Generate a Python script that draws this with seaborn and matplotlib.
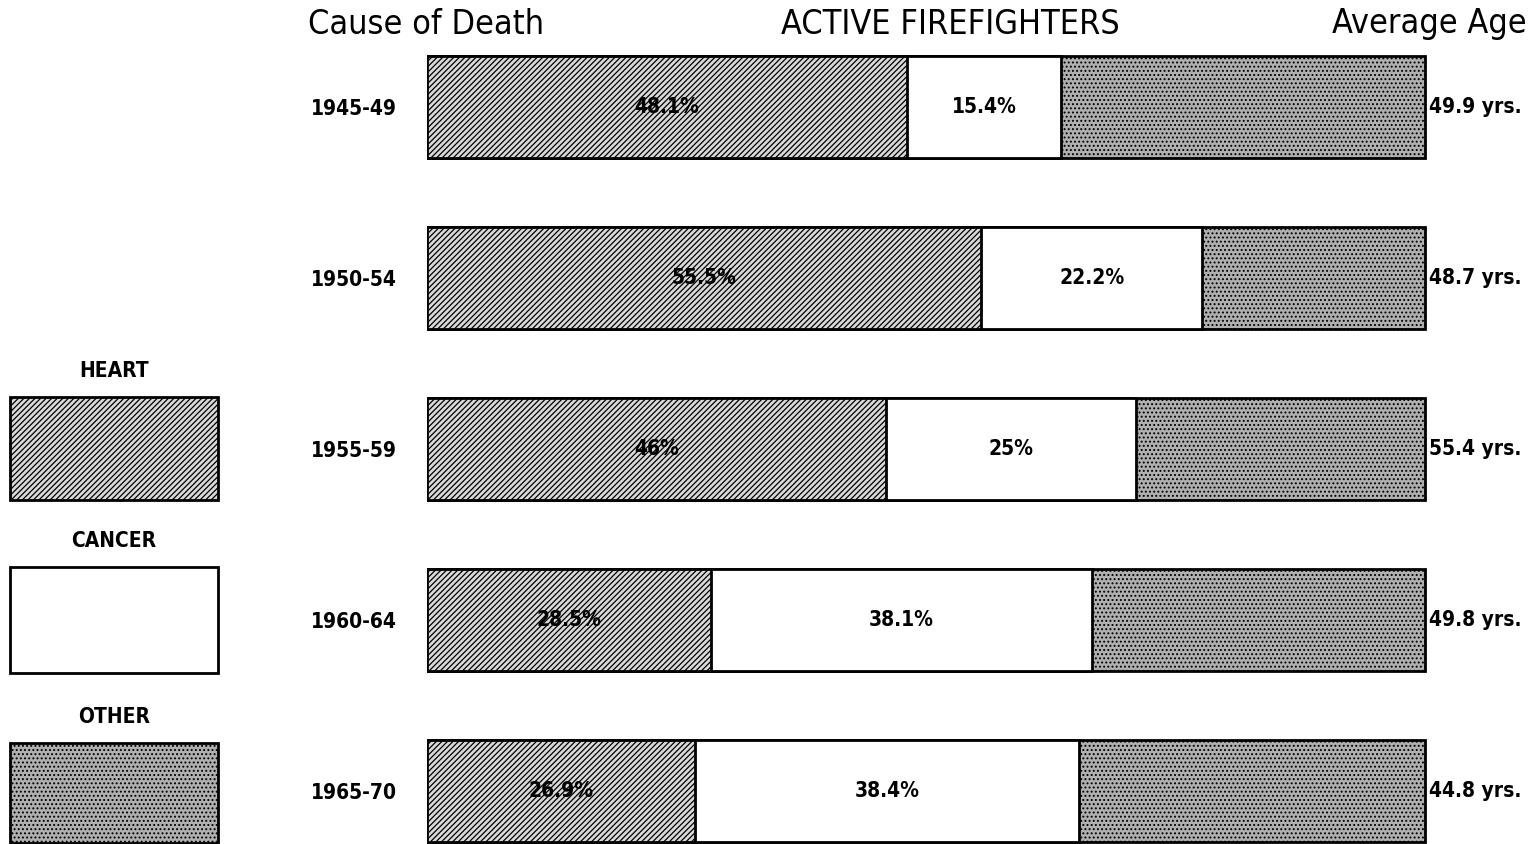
import matplotlib
matplotlib.use('Agg')
import matplotlib.pyplot as plt
from matplotlib.patches import Rectangle
import numpy as np
import pandas as pd
import seaborn as sns

periods = ['1945-49', '1950-54', '1955-59', '1960-64', '1965-70']
heart = [48.1, 55.5, 46.0, 28.5, 26.9]
cancer = [15.4, 22.2, 25.0, 38.1, 38.4]
other = [36.5, 22.3, 29.0, 33.4, 34.7]
avg_age = [49.9, 48.7, 55.4, 49.8, 44.8]

HEART_FACE = '#d9d9d9'
OTHER_FACE = '#b0b0b0'
FONT = dict(family='DejaVu Sans', stretch='condensed')
W, H = 1536, 844


def build_frame():
    df = pd.DataFrame({'period': periods, 'heart': heart,
                       'cancer': cancer, 'other': other, 'age': avg_age})
    df['heart_cancer'] = df['heart'] + df['cancer']
    df['total'] = df['heart_cancer'] + df['other']
    return df


def draw_bars(df, ax):
    common = dict(y='period', orient='h', width=0.6, errorbar=None,
                  saturation=1, edgecolor='black', linewidth=2, ax=ax)
    sns.barplot(data=df, x='total', color=OTHER_FACE, hatch='....', **common)
    sns.barplot(data=df, x='heart_cancer', color='white', **common)
    sns.barplot(data=df, x='heart', color=HEART_FACE, hatch='//////', **common)

    for i, row in df.iterrows():
        ax.text(row['heart'] / 2, i, f"{row['heart']:g}%", ha='center',
                va='center', fontsize=15, fontweight='bold', **FONT)
        ax.text(row['heart'] + row['cancer'] / 2, i, f"{row['cancer']:g}%",
                ha='center', va='center', fontsize=15, fontweight='bold', **FONT)
        ax.annotate(f"{row['age']:.1f} yrs.", xy=(row['total'], i),
                    xytext=(3, 0), textcoords='offset points', ha='left',
                    va='center', fontsize=15, fontweight='bold', **FONT,
                    annotation_clip=False)

    ax.set_xlim(0, 100.2)
    ax.set_ylim(4.31, -0.33)
    ax.set_xlabel('')
    ax.set_ylabel('')
    ax.set_xticks([])
    ax.tick_params(axis='y', length=0, pad=22)
    for lab in ax.get_yticklabels():
        lab.set_fontsize(15)
        lab.set_fontweight('bold')
        lab.set_fontstretch('condensed')
    for s in ax.spines.values():
        s.set_visible(False)


def draw_legend(fig):
    # name, face, hatch, box top / bottom in pixels
    items = [('HEART', HEART_FACE, '//////', 397, 500),
             ('CANCER', 'white', None, 567, 673),
             ('OTHER', OTHER_FACE, '....', 743, 843)]
    for name, face, hatch, top, bottom in items:
        fig.add_artist(Rectangle((10 / W, (H - bottom) / H), 208 / W,
                                 (bottom - top) / H,
                                 transform=fig.transFigure, facecolor=face,
                                 hatch=hatch, edgecolor='black', linewidth=2))
        fig.text(114 / W, (H - top + 26) / H, name, ha='center', va='center',
                 fontsize=15, fontweight='bold', **FONT)


def main():
    sns.set_theme(style='white')
    plt.rcParams['hatch.linewidth'] = 0.9
    plt.rcParams['text.color'] = 'black'
    plt.rcParams['ytick.color'] = 'black'
    fig = plt.figure(figsize=(W / 100, H / 100), dpi=100)
    ax = fig.add_axes([427 / W, 0.0, 1000 / W, 0.94])
    draw_bars(build_frame(), ax)
    draw_legend(fig)

    ty = (H - 24) / H
    fig.text(308 / W, ty, 'Cause of Death', ha='left', va='center',
             fontsize=24.5, **FONT)
    fig.text(950 / W, ty, 'ACTIVE FIREFIGHTERS', ha='center',
             va='center', fontsize=24.5, **FONT)
    fig.text(1527 / W, ty, 'Average Age', ha='right', va='center',
             fontsize=24.5, **FONT)

    fig.savefig('out.png', dpi=100, facecolor='white')


if __name__ == '__main__':
    main()
